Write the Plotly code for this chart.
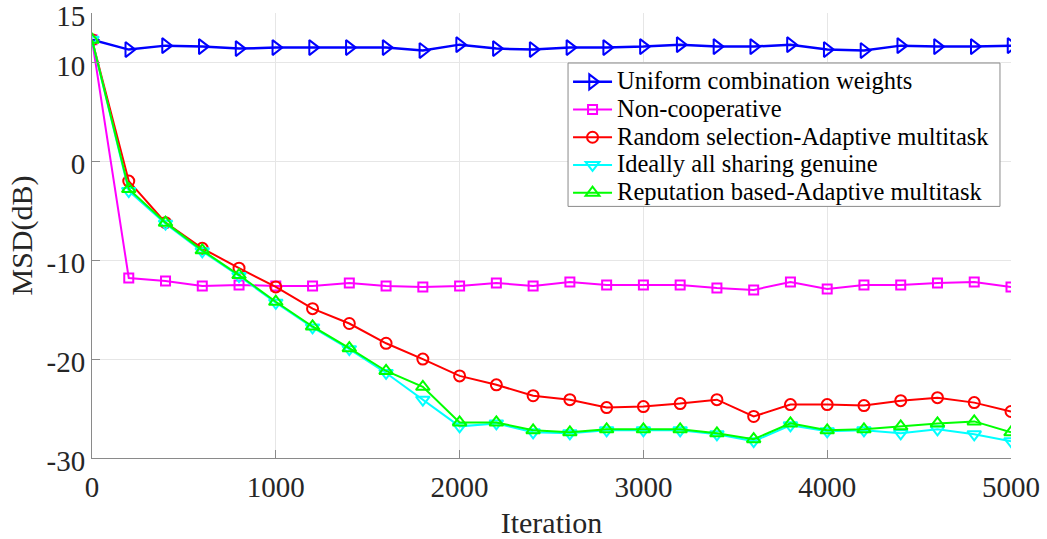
import plotly.graph_objects as go

# Iteration index (sampled every 200 iterations)
iterations = list(range(0, 5001, 200))

# MSD in dB for each algorithm
msd_uniform = [12.3, 11.3, 11.7, 11.6, 11.4, 11.5, 11.5, 11.5, 11.5, 11.2, 11.8, 11.4, 11.3,
               11.5, 11.5, 11.6, 11.8, 11.6, 11.6, 11.8, 11.3, 11.2, 11.7, 11.6, 11.6, 11.7]
msd_noncoop = [12.3, -11.8, -12.1, -12.6, -12.5, -12.6, -12.6, -12.3, -12.6, -12.7, -12.6, -12.3, -12.6,
               -12.2, -12.5, -12.5, -12.5, -12.8, -13.0, -12.2, -12.9, -12.5, -12.5, -12.3, -12.2, -12.7]
msd_random = [12.3, -2.0, -6.2, -8.8, -10.8, -12.7, -14.9, -16.4, -18.4, -20.0, -21.7, -22.6, -23.7,
              -24.1, -24.9, -24.8, -24.5, -24.1, -25.8, -24.6, -24.6, -24.7, -24.2, -23.9, -24.4, -25.3]
msd_ideal = [12.3, -3.0, -6.3, -9.1, -11.6, -14.3, -16.8, -19.0, -21.4, -24.1, -26.8, -26.5, -27.4,
             -27.5, -27.2, -27.2, -27.2, -27.6, -28.3, -26.7, -27.3, -27.2, -27.5, -27.1, -27.6, -28.3]
msd_reputation = [12.3, -2.8, -6.2, -9.0, -11.5, -14.2, -16.7, -18.9, -21.2, -22.8, -26.4, -26.4, -27.2,
                  -27.4, -27.1, -27.1, -27.1, -27.5, -28.1, -26.5, -27.2, -27.1, -26.8, -26.5, -26.3, -27.4]

names = ["Uniform combination weights", "Non-cooperative",
         "Random selection-Adaptive multitask", "Ideally all sharing genuine",
         "Reputation based-Adaptive multitask"]

x_ticks = [0, 1000, 2000, 3000, 4000, 5000]
y_ticks = [-30, -20, -10, 0, 10, 15]
y_tick_text = ["-30", "-20", "-10", "0", "10", "15"]

series = [
    (msd_uniform, names[0], "#0000FF", "triangle-right-open", 13, 2.5),
    (msd_noncoop, names[1], "#FF00FF", "square-open", 9, 2),
    (msd_random, names[2], "#FF0000", "circle-open", 11, 2),
    (msd_ideal, names[3], "#00FFFF", "triangle-down-open", 12, 2),
    (msd_reputation, names[4], "#00FF00", "triangle-up-open", 12, 2),
]

font_family = "Liberation Serif"
legend_text_px = 24.5

fig = go.Figure()
for values, name, color, symbol, size, lw in series:
    fig.add_trace(go.Scatter(
        x=iterations, y=values, mode="lines+markers",
        name=f"<span style='font-size:{legend_text_px}px'>{name}</span>",
        line=dict(color=color, width=lw),
        marker=dict(symbol=symbol, size=size, color=color,
                    line=dict(color=color, width=2)),
    ))

axis_common = dict(
    showline=True, linecolor="#8a8a8a", linewidth=1,
    ticks="inside", ticklen=8, tickcolor="#8a8a8a",
    showgrid=True, gridcolor="#e6e6e6", gridwidth=1,
    zeroline=False, mirror=False, ticklabeloverflow="allow",
    automargin=False,
    tickfont=dict(family=font_family, size=29, color="#262626"),
)

# Legend frame: white box with grey border sitting over the grid
legend_box = dict(x0=0.518, x1=0.988, y0=0.5654, y1=0.8876)

fig.update_layout(
    width=1047, height=539,
    margin=dict(l=92, r=36, t=13, b=81),
    paper_bgcolor="white", plot_bgcolor="white",
    font=dict(family=font_family, color="#262626"),
    xaxis=dict(
        range=[0, 5000], tickvals=x_ticks, ticklabelstandoff=3, **axis_common,
        title=dict(text="Iteration", font=dict(family=font_family, size=30, color="#262626"),
                   standoff=10),
    ),
    yaxis=dict(
        range=[-30, 15], tickvals=y_ticks, ticktext=y_tick_text, ticklabelshift=3,
        **axis_common,
        title=dict(text="MSD(dB)", font=dict(family=font_family, size=30, color="#262626"),
                   standoff=5),
    ),
    shapes=[dict(type="rect", xref="paper", yref="paper", layer="above",
                 fillcolor="white", line=dict(color="#8a8a8a", width=1),
                 **legend_box)],
    legend=dict(
        x=legend_box["x0"], y=legend_box["y1"], xanchor="left", yanchor="top",
        bgcolor="rgba(0,0,0,0)", borderwidth=0,
        font=dict(family=font_family, size=19, color="black"),
        tracegroupgap=0, itemwidth=39,
    ),
    showlegend=True,
)

fig.write_html("out.html")
